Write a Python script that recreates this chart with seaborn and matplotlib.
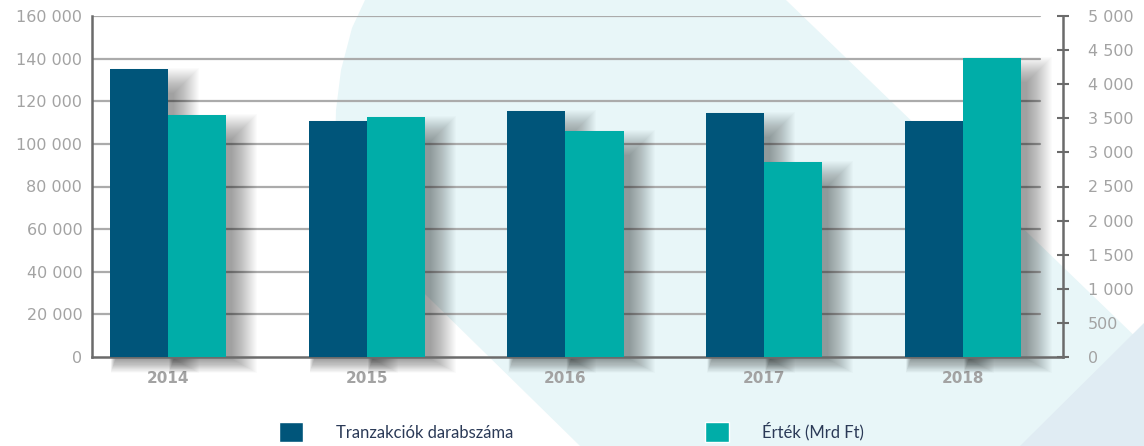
import pandas as pd
import matplotlib
matplotlib.use("Agg")
import matplotlib.pyplot as plt
import seaborn as sns
from matplotlib.patches import Polygon, Rectangle, Patch
from matplotlib.transforms import IdentityTransform

years = ["2014", "2015", "2016", "2017", "2018"]
tranzakciok = [135200, 110800, 115500, 114600, 110800]
ertek = [3550, 3520, 3320, 2860, 4390]
s1 = "Tranzakciók darabszáma"
s2 = "Érték (Mrd Ft)"
left_ticks = [0, 20000, 40000, 60000, 80000, 100000, 120000, 140000, 160000]
right_ticks = [0, 500, 1000, 1500, 2000, 2500, 3000, 3500, 4000, 4500, 5000]

c_dark = "#00557a"
c_teal = "#00ada8"
c_tick = "#a3a3a3"
c_axis = "#6b6b6b"
c_grid = "#ababab"

df = pd.DataFrame({
    "year": years * 2,
    "series": [s1] * 5 + [s2] * 5,
    "value": tranzakciok + ertek,
})

sns.set_style("white")
plt.rcParams["font.family"] = ["DejaVu Sans"]

W, H = 1144, 446
fig = plt.figure(figsize=(W / 100, H / 100), dpi=100)

def px(pts):
    return [(x / W, 1 - y / H) for x, y in pts]

# decorative background shapes
band = [(365, 0), (786, 0), (1144, 345), (1144, 446), (580, 446), (380, 250),
        (352, 222), (340, 190), (335, 150), (336, 110), (341, 70), (352, 28)]
fig.patches.append(Polygon(px(band), closed=True, transform=fig.transFigure,
                           facecolor="#e8f6f8", edgecolor="none", zorder=-10))
corner = [(1144, 323), (1144, 446), (1020, 446)]
fig.patches.append(Polygon(px(corner), closed=True, transform=fig.transFigure,
                           facecolor="#e0ecf3", edgecolor="none", zorder=-9))

ax = fig.add_axes([92 / W, 1 - 357 / H, 971 / W, 341 / H])
ax2 = ax.twinx()
for a in (ax, ax2):
    a.patch.set_visible(False)

pal = {s1: c_dark, s2: c_teal}
# both series drawn on each axis for dodging, then the foreign one removed
for a, drop in ((ax, 1), (ax2, 0)):
    sns.barplot(data=df, x="year", y="value", hue="series", hue_order=[s1, s2],
                order=years, palette=pal, width=0.584, gap=0, saturation=1,
                errorbar=None, legend=False, ax=a, zorder=3,
                edgecolor="none", linewidth=0)
    for p in list(a.containers[drop]):
        p.remove()

ax.set_xlim(-0.382, 4.503)
ax.set_ylim(0, 160000)
ax2.set_ylim(0, 5000)

# gridlines
for t in left_ticks[1:]:
    ax.axhline(t, xmin=0, xmax=0.976, color=c_grid, lw=1.6, zorder=0.5)

# soft shadows behind bars
def shadow(a):
    for p in list(a.patches):
        (x0, y0), (x1, y1) = a.transData.transform(
            [(p.get_x(), 0), (p.get_x() + p.get_width(), p.get_height())])
        for k in range(26):
            g = k * 1.0
            bot = y0 - 2 - g * 0.55
            top = y1 - 24 + g
            ax.add_patch(Rectangle((x0 + 6 - g * 0.2, bot), (x1 - x0) + g * 1.2,
                                   top - bot, transform=IdentityTransform(),
                                   facecolor="black", edgecolor="none",
                                   alpha=0.015, zorder=1, clip_on=False))

shadow(ax)
shadow(ax2)
ax.set_xlim(-0.382, 4.503)
ax.set_ylim(0, 160000)

for a in (ax, ax2):
    a.set_xlabel("")
    a.set_ylabel("")

ax.set_yticks(left_ticks)
ax.set_yticklabels([f"{t:,}".replace(",", " ") for t in left_ticks])
ax2.set_yticks(right_ticks)
ax2.set_yticklabels([f"{t:,}".replace(",", " ") for t in right_ticks])

ax.tick_params(axis="y", length=0, pad=7, labelsize=11.5, labelcolor=c_tick)
ax.tick_params(axis="x", length=0, pad=10, labelsize=11, labelcolor=c_tick)
for lab in ax.get_xticklabels():
    lab.set_fontweight("bold")
ax2.tick_params(axis="y", direction="inout", length=8, width=1.5, color=c_axis,
                pad=14, labelsize=11.5, labelcolor=c_tick)

for s in ["top", "right"]:
    ax.spines[s].set_visible(False)
for s in ["left", "bottom"]:
    ax.spines[s].set_color(c_axis)
    ax.spines[s].set_linewidth(1.8)
for s in ["top", "left", "bottom"]:
    ax2.spines[s].set_visible(False)
ax2.spines["right"].set_color(c_axis)
ax2.spines["right"].set_linewidth(1.8)

# legend
lf = {"size": 12, "family": ["Lato", "DejaVu Sans"]}
for color, label, xpos in ((c_dark, s1, 279), (c_teal, s2, 705)):
    fig.legend(handles=[Patch(facecolor=color, label=label)], loc="center left",
               bbox_to_anchor=(xpos / W, 1 - 432 / H), frameon=False, prop=lf,
               handlelength=1.45, handleheight=1.45, handletextpad=2.0,
               borderpad=0, borderaxespad=0, labelcolor="#2b3a57")

fig.savefig("out.png", dpi=100)
